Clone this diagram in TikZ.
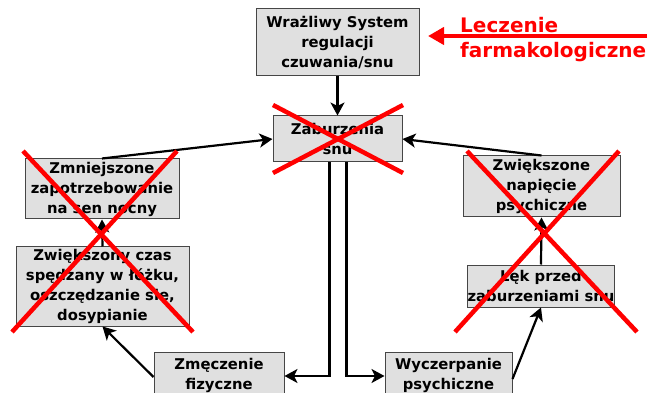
\documentclass[tikz,border=0pt]{standalone}
\usepackage{fontspec}
\setmainfont{DejaVu Sans}
\usetikzlibrary{arrows.meta}
\definecolor{boxgray}{RGB}{224,224,224}
\definecolor{boxline}{RGB}{70,70,70}
\definecolor{xred}{RGB}{255,0,0}
\begin{document}
\begin{tikzpicture}[x=1pt,y=-1pt,
  box/.style={draw=boxline,line width=1pt,fill=boxgray,inner sep=0pt,align=center,
    font=\bfseries\fontsize{14.8}{20}\selectfont},
  arr/.style={line width=2.2pt,-{Stealth[length=13pt,width=14pt,inset=3.5pt]}},
  redarr/.style={xred,line width=4pt,-{Triangle[length=16pt,width=17pt]}},
  cross/.style={xred,line width=4.5pt}]
\useasboundingbox (0,0) rectangle (654,393);
\fill[white] (0,0) rectangle (654,393);
% boxes
\node[box,minimum width=163pt,minimum height=67pt] (sys) at (337.5,42.5) {Wrażliwy System\\regulacji\\czuwania/snu};
\node[box,minimum width=129pt,minimum height=46pt] (zab) at (337.5,139) {Zaburzenia\\snu};
\node[box,minimum width=154pt,minimum height=60pt] (zmn) at (102,189) {Zmniejszone\\zapotrzebowanie\\na sen nocny};
\node[box,minimum width=157pt,minimum height=61pt] (zwn) at (541.5,186.5) {Zwiększone\\napięcie\\psychiczne};
\node[box,minimum width=173pt,minimum height=79pt] (czas) at (102.5,286.5) {Zwiększony czas\\spędzany w łóżku,\\oszczędzanie się,\\dosypianie};
\node[box,minimum width=146pt,minimum height=42pt] (lek) at (541,286) {Lęk przed\\zaburzeniami snu};
\node[box,minimum width=130pt,minimum height=46pt] (zme) at (219,375) {Zmęczenie\\fizyczne};
\node[box,minimum width=127pt,minimum height=46pt] (wyc) at (448.5,375) {Wyczerpanie\\psychiczne};
% connectors
\draw[arr] (sys.south) -- (zab.north);
\draw[arr] (zmn.north) -- (zab.west);
\draw[arr] (zwn.north) -- (zab.east);
\draw[arr] (czas.north) -- (zmn.south);
\draw[arr] (lek.north) -- (zwn.south);
\draw[arr] ([xshift=-8pt]zab.south) |- ([yshift=-1pt]zme.east);
\draw[arr] ([xshift=9pt]zab.south) |- ([yshift=-1pt]wyc.west);
\draw[arr] ([yshift=-2pt]zme.west) -- (czas.south);
\draw[arr] ([yshift=-4pt]wyc.east) -- (lek.south);
% treatment
\coordinate (rs) at (647,36);
\coordinate (re) at (428,36);
\draw[redarr] (rs) -- (re);
\node[anchor=north west,align=left,text=xred,inner sep=0pt,
  font=\bfseries\fontsize{20}{25}\selectfont] (lecz) at (460,17) {Leczenie\\farmakologiczne};
% crosses
\draw[cross] (273,105) -- (403,173);
\draw[cross] (273,173) -- (403,105);
\draw[cross] (23,151) -- (193,332);
\draw[cross] (177,151) -- (12,332);
\draw[cross] (467,151) -- (637,332);
\draw[cross] (619,151) -- (455,332);
\end{tikzpicture}
\end{document}
